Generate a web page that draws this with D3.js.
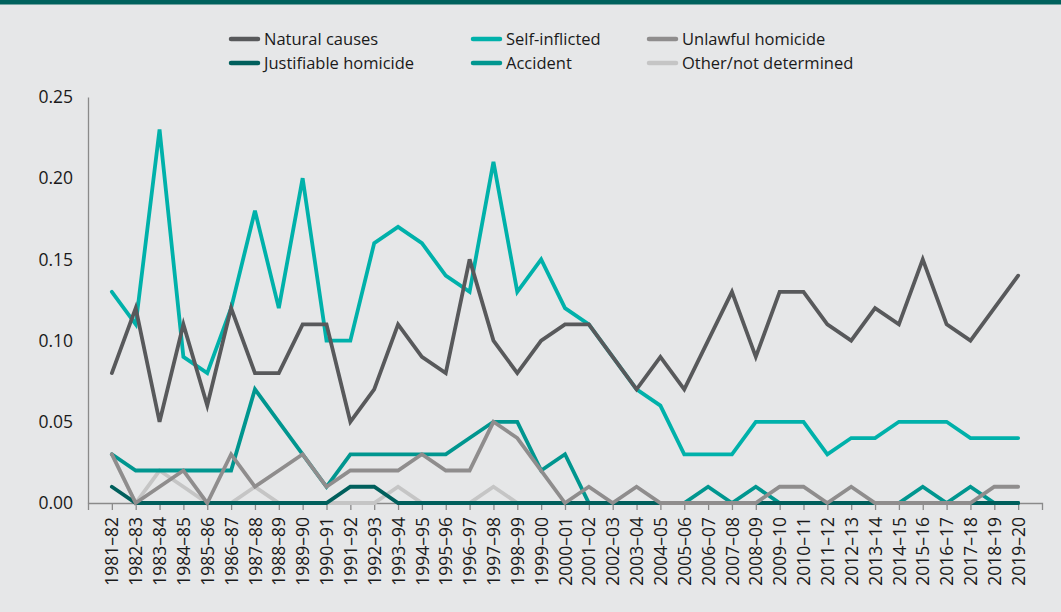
<!DOCTYPE html>
<html>
<head>
<meta charset="utf-8">
<script src="https://cdn.jsdelivr.net/npm/d3@7"></script>
<style>
  body { margin: 0; background: #e6e7e8; }
  svg { display: block; font-family: "Open Sans", sans-serif; }
</style>
</head>
<body>
<div id="chart"></div>
<script>
// Financial years on the x axis
const years = ['1981–82', '1982–83', '1983–84', '1984–85', '1985–86', '1986–87', '1987–88', '1988–89',
    '1989–90', '1990–91', '1991–92', '1992–93', '1993–94', '1994–95', '1995–96', '1996–97', '1997–98',
    '1998–99', '1999–00', '2000–01', '2001–02', '2002–03', '2003–04', '2004–05', '2005–06', '2006–07',
    '2007–08', '2008–09', '2009–10', '2010–11', '2011–12', '2012–13', '2013–14', '2014–15', '2015–16',
    '2016–17', '2017–18', '2018–19', '2019–20']

// Series values
const naturalCauses = [0.08, 0.12, 0.05, 0.11, 0.06, 0.12, 0.08, 0.08, 0.11, 0.11, 0.05, 0.07, 0.11, 0.09,
    0.08, 0.15, 0.10, 0.08, 0.10, 0.11, 0.11, 0.09, 0.07, 0.09, 0.07, 0.10, 0.13, 0.09, 0.13, 0.13, 0.11,
    0.10, 0.12, 0.11, 0.15, 0.11, 0.10, 0.12, 0.14]
const selfInflicted = [0.13, 0.11, 0.23, 0.09, 0.08, 0.12, 0.18, 0.12, 0.20, 0.10, 0.10, 0.16, 0.17, 0.16,
    0.14, 0.13, 0.21, 0.13, 0.15, 0.12, 0.11, 0.09, 0.07, 0.06, 0.03, 0.03, 0.03, 0.05, 0.05, 0.05, 0.03,
    0.04, 0.04, 0.05, 0.05, 0.05, 0.04, 0.04, 0.04]
const unlawfulHomicide = [0.03, 0.00, 0.01, 0.02, 0.00, 0.03, 0.01, 0.02, 0.03, 0.01, 0.02, 0.02, 0.02, 0.03,
    0.02, 0.02, 0.05, 0.04, 0.02, 0.00, 0.01, 0.00, 0.01, 0.00, 0.00, 0.00, 0.00, 0.00, 0.01, 0.01, 0.00,
    0.01, 0.00, 0.00, 0.00, 0.00, 0.00, 0.01, 0.01]
const justifiableHomicide = [0.01, 0.00, 0.00, 0.00, 0.00, 0.00, 0.00, 0.00, 0.00, 0.00, 0.01, 0.01, 0.00, 0.00,
    0.00, 0.00, 0.00, 0.00, 0.00, 0.00, 0.00, 0.00, 0.00, 0.00, 0.00, 0.00, 0.00, 0.00, 0.00, 0.00, 0.00,
    0.00, 0.00, 0.00, 0.00, 0.00, 0.00, 0.00, 0.00]
const accident = [0.03, 0.02, 0.02, 0.02, 0.02, 0.02, 0.07, 0.05, 0.03, 0.01, 0.03, 0.03, 0.03, 0.03,
    0.03, 0.04, 0.05, 0.05, 0.02, 0.03, 0.00, 0.00, 0.00, 0.00, 0.00, 0.01, 0.00, 0.01, 0.00, 0.00, 0.00,
    0.00, 0.00, 0.00, 0.01, 0.00, 0.01, 0.00, 0.00]
const otherNotDetermined = [0.03, 0.00, 0.02, 0.01, 0.00, 0.00, 0.01, 0.00, 0.00, 0.00, 0.00, 0.00, 0.01, 0.00,
    0.00, 0.00, 0.01, 0.00, 0.00, 0.00, 0.00, 0.00, 0.00, 0.00, 0.00, 0.00, 0.00, 0.00, 0.00, 0.00, 0.00,
    0.00, 0.00, 0.00, 0.00, 0.00, 0.00, 0.00, 0.00]

const yTicks = [0, 0.05, 0.10, 0.15, 0.20, 0.25]

// Legend order (row by row); lines are drawn in reverse so the first ones sit on top
const series = [
    { name: 'Natural causes', values: naturalCauses, color: '#58595b' },
    { name: 'Self-inflicted', values: selfInflicted, color: '#00b1aa' },
    { name: 'Unlawful homicide', values: unlawfulHomicide, color: '#8f8d8d' },
    { name: 'Justifiable homicide', values: justifiableHomicide, color: '#005f5c' },
    { name: 'Accident', values: accident, color: '#00968f' },
    { name: 'Other/not determined', values: otherNotDetermined, color: '#c5c5c5' }
]

const width = 1061, height = 612
const axisColor = '#8a8a8a'

const svg = d3.select('#chart')
    .append('svg')
    .attr('width', width)
    .attr('height', height)

svg.append('rect').attr('width', width).attr('height', height).attr('fill', '#e6e7e8')
svg.append('rect').attr('width', width).attr('height', 4.5).attr('fill', '#00625d')

// Scales
const x = d3.scalePoint().domain(years).range([88, 1042]).padding(1)
const y = d3.scaleLinear().domain([0, 0.25]).range([503, 97])

// Y axis
const yAxis = svg.append('g')
    .attr('transform', `translate(${x.range()[0]},0)`)
    .call(d3.axisLeft(y).tickValues(yTicks).tickFormat(d3.format('.2f')).tickSize(0).tickPadding(15))
yAxis.select('.domain').attr('stroke', axisColor).attr('stroke-width', 1.3)
yAxis.selectAll('text').attr('font-size', 17.5).attr('fill', '#1a1a1a').attr('font-family', '"Open Sans", sans-serif')

// X axis
const xAxis = svg.append('g')
    .attr('transform', `translate(0,${y(0)})`)
    .call(d3.axisBottom(x).tickSize(7).tickSizeOuter(7))
xAxis.select('.domain').attr('stroke', axisColor).attr('stroke-width', 1.3)
xAxis.selectAll('line').attr('stroke', axisColor).attr('stroke-width', 1.3)
xAxis.selectAll('text')
    .attr('font-size', 17.5)
    .attr('fill', '#1a1a1a')
    .attr('font-family', '"Open Sans", sans-serif')
    .attr('transform', 'rotate(-90)')
    .attr('text-anchor', 'end')
    .attr('x', -14)
    .attr('y', 0)
    .attr('dy', '0.35em')

// Lines
const line = d3.line()
    .x((d, i) => x(years[i]))
    .y(d => y(d))

svg.append('g')
    .selectAll('path')
    .data(series.slice().reverse())
    .enter()
    .append('path')
    .attr('d', d => line(d.values))
    .attr('fill', 'none')
    .attr('stroke', d => d.color)
    .attr('stroke-width', 3.8)
    .attr('stroke-linecap', 'round')
    .attr('stroke-linejoin', 'miter')

// Legend: 3 columns, 2 rows
const legendCols = [230, 472, 648]
const legendRows = [39, 63]

const legend = svg.append('g')
    .selectAll('g')
    .data(series)
    .enter()
    .append('g')
    .attr('transform', (d, i) => `translate(${legendCols[i % 3]},${legendRows[Math.floor(i / 3)]})`)

legend.append('line')
    .attr('x1', 1).attr('x2', 28)
    .attr('stroke', d => d.color)
    .attr('stroke-width', 4.5)
    .attr('stroke-linecap', 'round')

legend.append('text')
    .attr('x', 34)
    .attr('dy', '0.35em')
    .attr('font-size', 16.5)
    .attr('fill', '#1a1a1a')
    .text(d => d.name)
</script>
</body>
</html>
